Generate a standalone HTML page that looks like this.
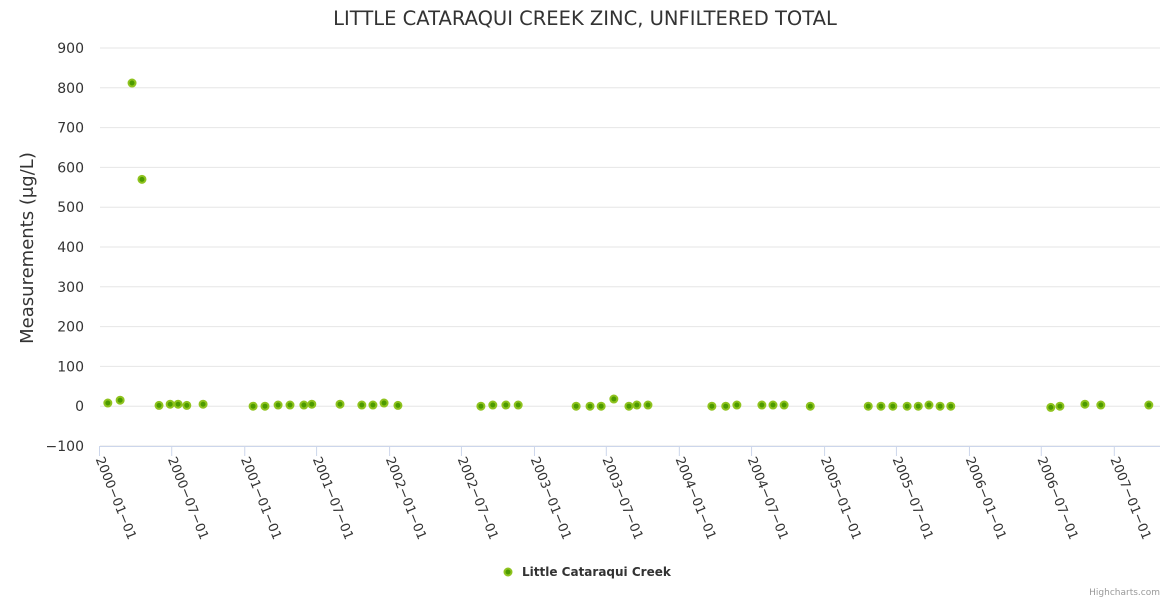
<!DOCTYPE html>
<html><head><meta charset="utf-8"><style>
body{margin:0;background:#fff;font-family:"DejaVu Sans",sans-serif}
svg text{font-family:"DejaVu Sans","Liberation Sans",sans-serif}
</style></head><body>
<svg id="chart" width="1170" height="600" xmlns="http://www.w3.org/2000/svg">
<text x="585" y="25" text-anchor="middle" font-size="19.5" fill="#333">LITTLE CATARAQUI CREEK ZINC, UNFILTERED TOTAL</text>
<text transform="translate(33,248) rotate(-90)" text-anchor="middle" font-size="18" fill="#333">Measurements (μg/L)</text>
<g id="grid"></g><g id="xaxis"></g><g id="points"></g>
<g><circle cx="508" cy="572" r="3.5" fill="#4c9a00" stroke="#8fc31f" stroke-width="2"/><text x="522" y="576" font-size="12" font-weight="bold" fill="#333">Little Cataraqui Creek</text></g>
<text x="1160" y="595" text-anchor="end" font-size="9" fill="#999">Highcharts.com</text>
</svg>
<script>
const yTicks=[-100,0,100,200,300,400,500,600,700,800,900];
const xTicks=["2000-01-01","2000-07-01","2001-01-01","2001-07-01","2002-01-01","2002-07-01","2003-01-01","2003-07-01","2004-01-01","2004-07-01","2005-01-01","2005-07-01","2006-01-01","2006-07-01","2007-01-01"];
const dates=["2000-01-22","2000-02-22","2000-03-23","2000-04-17","2000-05-30","2000-06-27","2000-07-17","2000-08-08","2000-09-18","2001-01-22","2001-02-21","2001-03-26","2001-04-25","2001-05-30","2001-06-19","2001-08-29","2001-10-23","2001-11-20","2001-12-18","2002-01-22","2002-08-19","2002-09-18","2002-10-21","2002-11-21","2003-04-16","2003-05-21","2003-06-18","2003-07-20","2003-08-27","2003-09-16","2003-10-14","2004-03-23","2004-04-27","2004-05-25","2004-07-27","2004-08-24","2004-09-21","2004-11-26","2005-04-21","2005-05-23","2005-06-22","2005-07-28","2005-08-25","2005-09-21","2005-10-19","2005-11-15","2006-07-25","2006-08-17","2006-10-19","2006-11-28","2007-03-29"];
const values=[8,15,812,570,2,5,5,2,5,0,0,3,3,3,5,5,3,3,8,2,0,3,3,3,0,0,0,18,0,3,3,0,0,3,3,3,3,0,0,0,0,0,0,3,0,0,-3,0,5,3,3];
const NS="http://www.w3.org/2000/svg";
const L=100,R=1160,T=48,B=446;
const t0=Date.UTC(2000,0,1),t1=Date.UTC(2007,0,1);
const x=d=>{const p=d.split('-').map(Number);const t=Date.UTC(p[0],p[1]-1,p[2]);return 99.5+(t-t0)/(t1-t0)*(1114.3-99.5);};
const y=v=>T+(900-v)/1000*(B-T);
function mk(tag,a,parent){const e=document.createElementNS(NS,tag);for(const k in a)e.setAttribute(k,a[k]);parent.appendChild(e);return e;}
const grid=document.getElementById('grid'),xa=document.getElementById('xaxis'),pts=document.getElementById('points');
yTicks.forEach(v=>{
 const ln=mk('line',{x1:L,x2:R,y1:y(v),y2:y(v),stroke:'#e6e6e6','stroke-width':1},grid);
 
 
 const t=mk('text',{x:84,y:y(v)+5,'text-anchor':'end','font-size':14,fill:'#333'},grid);
 t.textContent=String(v).replace('-','−');
 
 
});
const ax=mk('line',{x1:L,x2:R,y1:B+0.5,y2:B+0.5,stroke:'#ccd6eb','stroke-width':1},xa);


xTicks.forEach(d=>{
 const xx=x(d);
 const tk=mk('line',{x1:xx,x2:xx,y1:B,y2:B+10,stroke:'#ccd6eb'},xa);
 
 
 const t=mk('text',{transform:`translate(${xx-4},${B+13}) rotate(68)`,'font-size':13,fill:'#333'},xa);
 t.textContent=d.replace(/-/g,'−');
 
 
});
dates.forEach((d,i)=>{
 const c=mk('circle',{cx:x(d),cy:y(values[i]),r:3.5,fill:'#4c9a00',stroke:'#8fc31f','stroke-width':2},pts);
 
 
});
</script>
</body></html>
